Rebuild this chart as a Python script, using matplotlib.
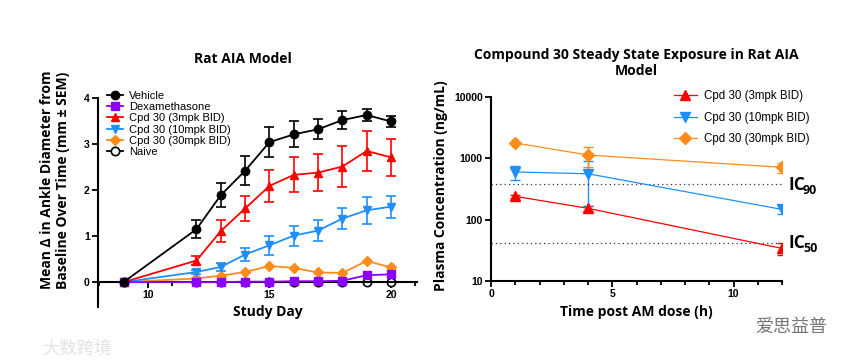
import matplotlib.pyplot as plt
import numpy as np

# ---- left panel: ankle diameter over time ----
days = [9, 12, 13, 14, 15, 16, 17, 18, 19, 20]
vehicle = [0, 1.15, 1.89, 2.42, 3.04, 3.21, 3.32, 3.52, 3.63, 3.49]
vehicle_err = [0, 0.20, 0.26, 0.31, 0.32, 0.28, 0.22, 0.20, 0.14, 0.12]
dexa = [0, 0.0, 0.0, 0.01, 0.01, 0.02, 0.02, 0.03, 0.15, 0.17]
cpd3 = [0, 0.47, 1.11, 1.60, 2.09, 2.33, 2.38, 2.51, 2.85, 2.71]
cpd3_err = [0, 0.10, 0.23, 0.27, 0.35, 0.38, 0.40, 0.44, 0.43, 0.41]
cpd10 = [0, 0.22, 0.33, 0.60, 0.80, 1.01, 1.12, 1.38, 1.56, 1.64]
cpd10_err = [0, 0.04, 0.08, 0.15, 0.20, 0.22, 0.22, 0.22, 0.30, 0.24]
cpd30 = [0, 0.08, 0.14, 0.22, 0.35, 0.31, 0.21, 0.20, 0.46, 0.32]
naive = [0, 0, 0, 0, 0, 0, 0, 0, 0, 0]

# ---- right panel: plasma exposure ----
pk_time = [1, 4, 12]
pk3 = [240, 153, 34]
pk3_err = [15, 12, 7]
pk10 = [600, 560, 147]
pk10_err_lo = [160, 390, 25]
pk10_err_hi = [160, 350, 25]
pk30 = [1780, 1133, 714]
pk30_err = [60, 410, 130]
ic90 = 382
ic50 = 42

BLACK = '#000000'
PURPLE = '#8a00ff'
RED = '#ff0000'
BLUE = '#1f8fff'
ORANGE = '#ff8c1a'

TITLE_FONT = 'Open Sans'
TICK_FONT = 'Liberation Sans'
LABEL_SIZE = 10

fig = plt.figure(figsize=(8.66, 3.64), dpi=100)

# left axes
ax1 = fig.add_axes([98 / 866, 1 - 307 / 364, 319 / 866, 209 / 364])
ax1.set_xlim(7.95, 21.07)
ax1.set_ylim(-0.54, 4.0)

eb = dict(capsize=3.5, elinewidth=1.2, capthick=1.2, lw=1.3, ms=6, clip_on=False)
h_naive = ax1.errorbar(days, naive, color=BLACK, marker='o', mfc='white', mew=1.2, zorder=2, **eb)
h_30 = ax1.errorbar(days, cpd30, color=ORANGE, marker='D', ms=5, lw=1.3, clip_on=False, zorder=3)
h_10 = ax1.errorbar(days, cpd10, yerr=cpd10_err, color=BLUE, marker='v', zorder=4, **eb)
h_3 = ax1.errorbar(days, cpd3, yerr=cpd3_err, color=RED, marker='^', zorder=5, **eb)
h_dex = ax1.errorbar(days, dexa, color=PURPLE, marker='s', ms=6, lw=1.3, clip_on=False, zorder=6)
h_veh = ax1.errorbar(days, vehicle, yerr=vehicle_err, color=BLACK, marker='o', zorder=7, **eb)

for s in ['top', 'right']:
    ax1.spines[s].set_visible(False)
ax1.spines['bottom'].set_position(('data', 0))
ax1.spines['left'].set_linewidth(1.5)
ax1.spines['bottom'].set_linewidth(1.5)
ax1.set_xticks([10, 15, 20])
ax1.set_xticks(range(8, 22), minor=True)
ax1.set_yticks([0, 1, 2, 3, 4])
ax1.tick_params(axis='both', which='major', width=1.3, length=4, labelsize=7.5, pad=2)
ax1.tick_params(axis='x', which='minor', width=1.3, length=3)
for lab in ax1.get_xticklabels() + ax1.get_yticklabels():
    lab.set_fontfamily(TICK_FONT)
    lab.set_fontweight('bold')

ax1.legend([h_veh[0], h_dex[0], h_3[0], h_10[0], h_30[0], h_naive[0]],
           ['Vehicle', 'Dexamethasone', 'Cpd 30 (3mpk BID)', 'Cpd 30 (10mpk BID)',
            'Cpd 30 (30mpk BID)', 'Naive'],
           loc='upper left', bbox_to_anchor=(101 / 866, 1 - 85 / 364),
           bbox_transform=fig.transFigure, frameon=False,
           prop={'family': TICK_FONT, 'size': 8},
           handlelength=1.5, handletextpad=0.5, labelspacing=0.12, borderpad=0)

fig.text(243 / 866, 1 - 59 / 364, 'Rat AIA Model', ha='center', va='center',
         fontfamily=TITLE_FONT, fontweight='bold', fontsize=LABEL_SIZE)
fig.text(55 / 866, 1 - 180 / 364,
         'Mean \u0394 in Ankle Diameter from\nBaseline Over Time (mm \u00b1 SEM)',
         ha='center', va='center', rotation=90, fontfamily=TITLE_FONT,
         fontweight='bold', fontsize=LABEL_SIZE, linespacing=1.1)
fig.text(268 / 866, 1 - 312 / 364, 'Study Day', ha='center', va='center',
         fontfamily=TITLE_FONT, fontweight='bold', fontsize=LABEL_SIZE)

# right axes
ax2 = fig.add_axes([491 / 866, 1 - 281 / 364, 291 / 866, 184 / 364])
ax2.set_yscale('log')
ax2.set_xlim(0, 12)
ax2.set_ylim(10, 10000)

eb2 = dict(capsize=3.5, elinewidth=1.0, capthick=1.0, lw=0.9, ms=7)
p3 = ax2.errorbar(pk_time, pk3, yerr=pk3_err, color=RED, marker='^', **eb2)
p10 = ax2.errorbar(pk_time, pk10, yerr=[pk10_err_lo, pk10_err_hi], color=BLUE, marker='v', **eb2)
p30 = ax2.errorbar(pk_time, pk30, yerr=pk30_err, color=ORANGE, marker='D', **dict(eb2, ms=6))
ax2.axhline(ic90, color='#333333', ls=(0, (1, 2.5)), lw=0.9)
ax2.axhline(ic50, color='#333333', ls=(0, (1, 2.5)), lw=0.9)

for s in ['top', 'right']:
    ax2.spines[s].set_visible(False)
ax2.spines['left'].set_linewidth(1.5)
ax2.spines['bottom'].set_linewidth(1.5)
ax2.set_xticks([0, 5, 10])
ax2.set_xticks(range(0, 13), minor=True)
ax2.set_yticks([10, 100, 1000, 10000])
ax2.set_yticklabels(['10', '100', '1000', '10000'])
ax2.yaxis.set_minor_locator(plt.NullLocator())
ax2.tick_params(axis='both', which='major', width=1.3, length=4, labelsize=7.5, pad=2)
ax2.tick_params(axis='x', which='minor', width=1.3, length=3)
for lab in ax2.get_xticklabels() + ax2.get_yticklabels():
    lab.set_fontfamily(TICK_FONT)
    lab.set_fontweight('bold')

ax2.legend([p3[0], p10[0], p30[0]],
           ['Cpd 30 (3mpk BID)', 'Cpd 30 (10mpk BID)', 'Cpd 30 (30mpk BID)'],
           loc='upper left', bbox_to_anchor=(668 / 866, 1 - 84 / 364),
           bbox_transform=fig.transFigure, frameon=False,
           prop={'family': TICK_FONT, 'size': 8.3},
           handlelength=2.0, handletextpad=0.6, labelspacing=0.85, borderpad=0)

fig.text(636 / 866, 1 - 63 / 364, 'Compound 30 Steady State Exposure in Rat AIA\nModel',
         ha='center', va='center', fontfamily=TITLE_FONT, fontweight='bold',
         fontsize=LABEL_SIZE, linespacing=1.2)
fig.text(441 / 866, 1 - 186 / 364, 'Plasma Concentration (ng/mL)', ha='center', va='center',
         rotation=90, fontfamily=TITLE_FONT, fontweight='bold', fontsize=LABEL_SIZE)
fig.text(636 / 866, 1 - 312 / 364, 'Time post AM dose (h)', ha='center', va='center',
         fontfamily=TITLE_FONT, fontweight='bold', fontsize=LABEL_SIZE)

# IC labels
for y_px, sub in [(185, '90'), (243, '50')]:
    fig.text(788 / 866, 1 - y_px / 364, 'IC', ha='left', va='center',
             fontfamily=TITLE_FONT, fontweight='bold', fontsize=12.5)
    fig.text(803 / 866, 1 - (y_px + 6) / 364, sub, ha='left', va='center',
             fontfamily=TITLE_FONT, fontweight='bold', fontsize=9)

# watermarks
fig.text(42 / 866, 1 - 348 / 364, '大数跨境', ha='left', va='center',
         fontfamily=['Noto Sans CJK SC', 'DejaVu Sans'], fontsize=12.5, color='#e2e2e2')
fig.text(755 / 866, 1 - 327 / 364, '爱思益普', ha='left', va='center',
         fontfamily=['Noto Sans CJK SC', 'DejaVu Sans'], fontsize=13, color='#777777')

fig.savefig('out.png', dpi=100)
